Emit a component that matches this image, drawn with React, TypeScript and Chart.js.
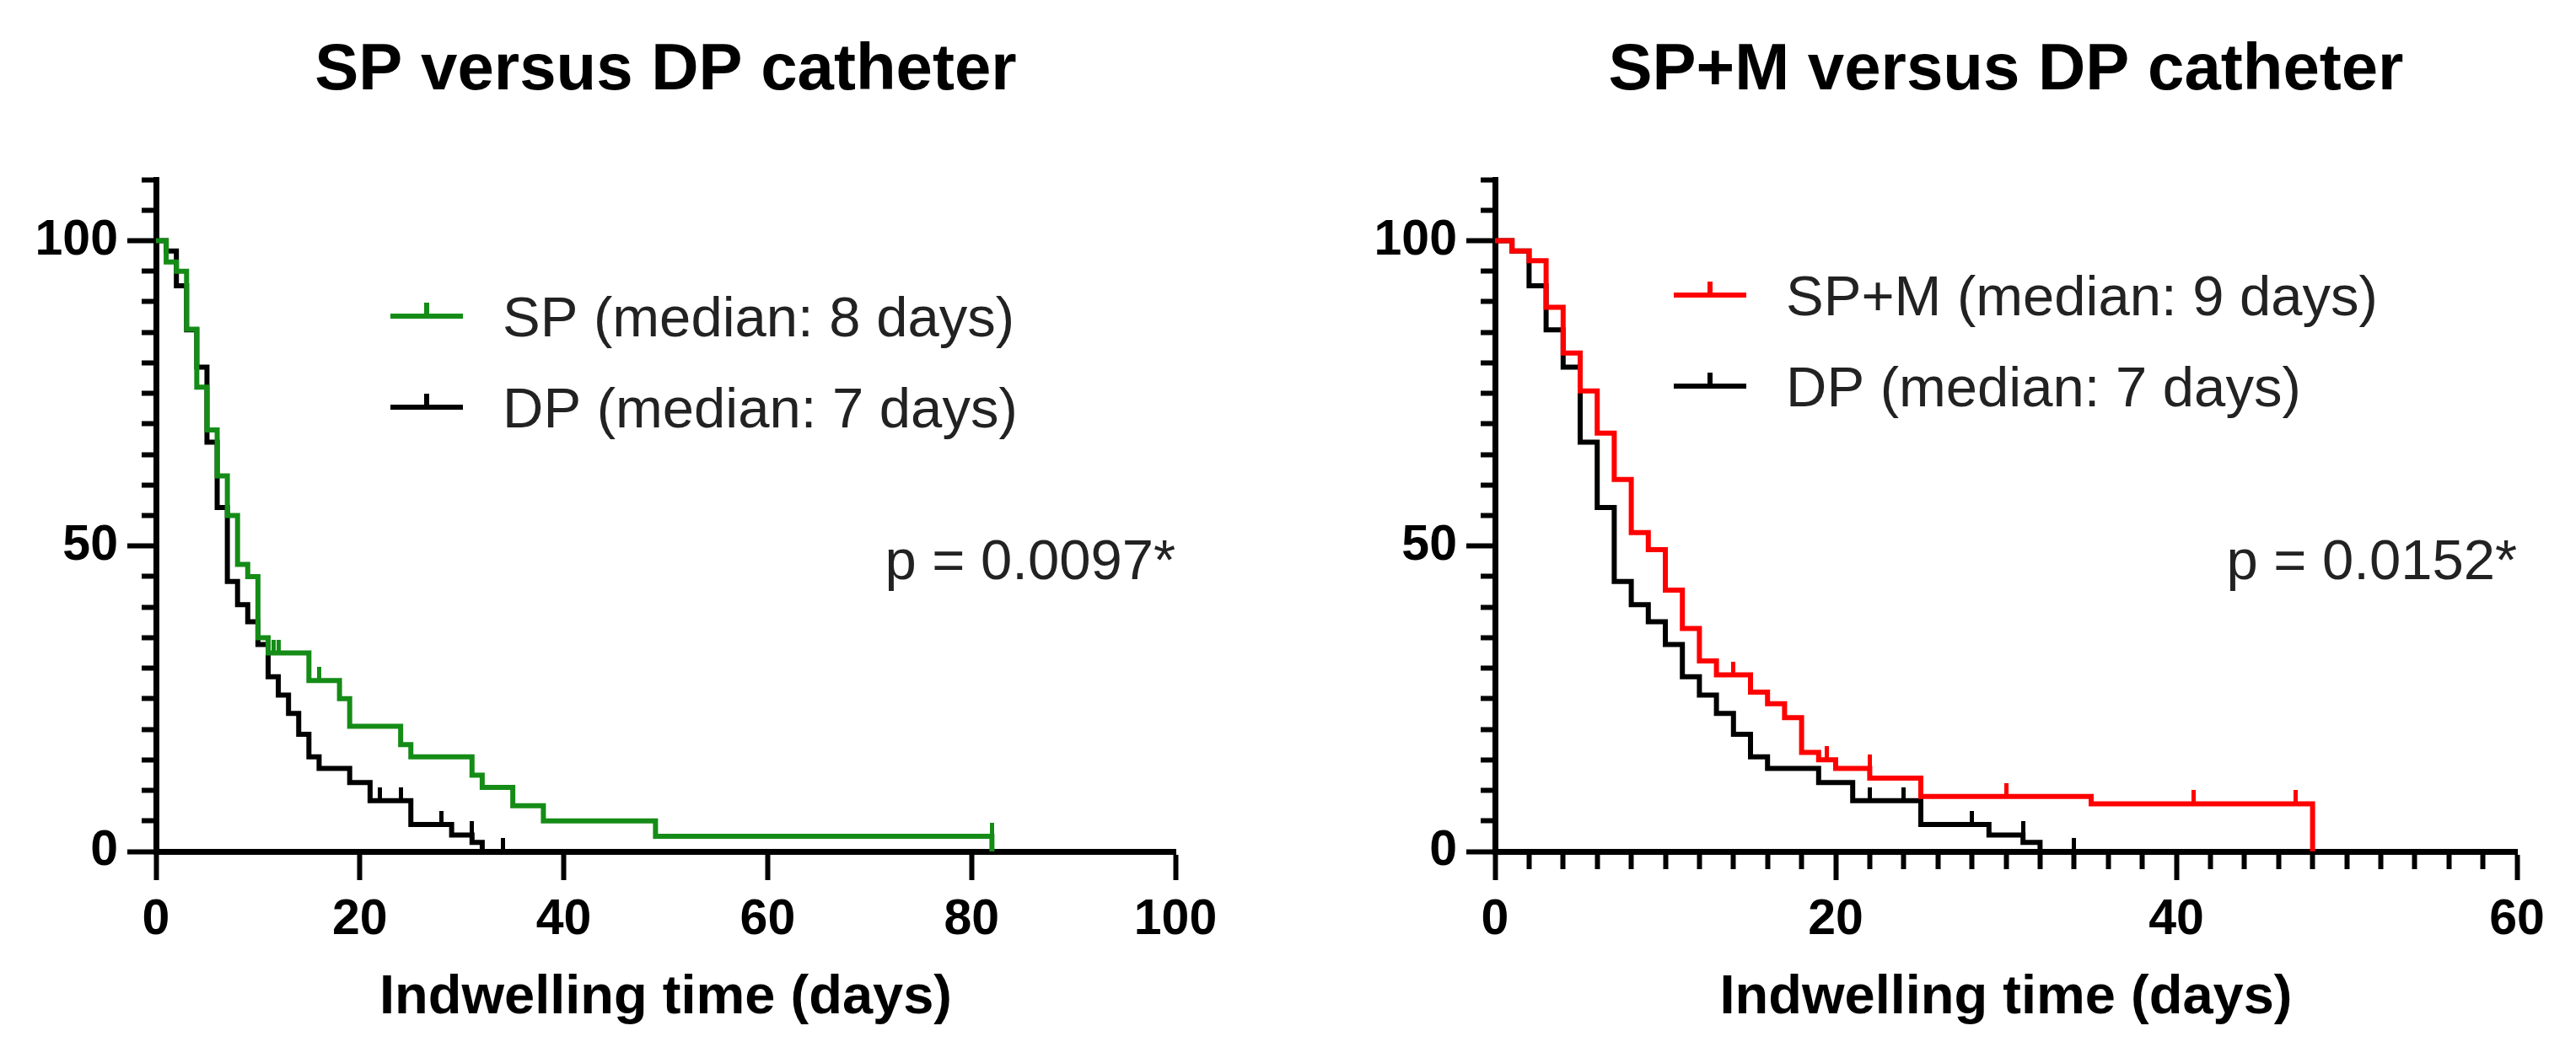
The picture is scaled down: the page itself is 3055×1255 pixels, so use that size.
import { useEffect, useRef } from "react";
import { Chart, registerables } from "chart.js";

Chart.register(...registerables);

// SP catheter (left panel)
const spDays = [0, 1, 2, 3, 4, 5, 6, 7, 8, 9, 10, 11, 15, 18, 19, 24, 25, 31, 32, 35, 38, 49, 82, 82];
const spSurvival = [100, 96.5, 95, 85.5, 76, 69, 61.5, 55, 47, 45, 35, 32.5, 28, 25, 20.5, 17.5, 15.5, 12.5, 10.5, 7.5, 5, 2.5, 2.5, 0];
const spCensored = [11.5, 12, 16, 82];

// DP catheter (both panels)
const dpDays = [0, 1, 2, 3, 4, 5, 6, 7, 8, 9, 10, 11, 12, 13, 14, 15, 16, 19, 21, 25, 29, 31, 32, 34];
const dpSurvival = [100, 98.3, 92.6, 85.4, 79.3, 67, 56.3, 44.2, 40.4, 37.6, 33.9, 28.6, 25.6, 22.6, 19.2, 15.5, 13.6, 11.3, 8.3, 4.4, 2.7, 1.5, 0, 0];
const dpCensored = [22, 24, 28, 31, 34];

// SP+M catheter (right panel)
const spmDays = [0, 1, 2, 3, 4, 5, 6, 7, 8, 9, 10, 11, 12, 13, 15, 16, 17, 18, 19, 20, 22, 25, 35, 48, 48];
const spmSurvival = [100, 98.3, 96.7, 89.1, 81.6, 75.4, 68.5, 60.9, 52.2, 49.4, 42.8, 36.5, 31.2, 28.9, 26.1, 24.2, 21.9, 16.2, 15.0, 13.6, 12.0, 9.0, 7.8, 7.8, 0];
const spmCensored = [14, 19.5, 22, 30, 41, 47];

const FONT = "'Liberation Sans', Arial, Helvetica, sans-serif";
const GREEN = "#158c17";
const RED = "#ff0000";
const BLACK = "#000000";

interface Series {
  label: string;
  color: string;
  days: number[];
  values: number[];
  censored: number[];
}

const toPoints = (days: number[], values: number[]) =>
  days.map((d, i) => ({ x: d, y: values[i] }));

// survival level just before time t (where the censor tick sits)
const levelAt = (days: number[], values: number[], t: number) => {
  let v = values[0];
  days.forEach((d, i) => {
    if (d < t) v = values[i];
  });
  return v;
};

// small upward tick, drawn as a point image centred on the curve
const censorMark = (color: string) => {
  const c = document.createElement("canvas");
  c.width = 5;
  c.height = 32;
  const ctx = c.getContext("2d");
  if (ctx) {
    ctx.fillStyle = color;
    ctx.fillRect(0, 0, 5, 16);
  }
  return c;
};

const annotate = {
  id: "kmAnnotate",
  afterDraw(chart: any, _args: any, opts: any) {
    const { ctx, chartArea } = chart;
    ctx.save();
    ctx.fillStyle = "#000";
    ctx.font = `bold 78px ${FONT}`;
    ctx.textAlign = "center";
    ctx.textBaseline = "alphabetic";
    ctx.fillText(opts.title, (chartArea.left + chartArea.right) / 2, 106);

    opts.series.forEach((s: Series, i: number) => {
      const y = opts.legendY + i * 108;
      ctx.strokeStyle = s.color;
      ctx.lineWidth = 6;
      ctx.beginPath();
      ctx.moveTo(opts.legendX, y);
      ctx.lineTo(opts.legendX + 86, y);
      ctx.moveTo(opts.legendX + 43, y);
      ctx.lineTo(opts.legendX + 43, y - 16);
      ctx.stroke();
      ctx.fillStyle = "#222";
      ctx.font = `67px ${FONT}`;
      ctx.textAlign = "left";
      ctx.fillText(s.label, opts.textX, y + 24);
    });

    ctx.fillStyle = "#222";
    ctx.font = `67px ${FONT}`;
    ctx.textAlign = "right";
    ctx.fillText(opts.pValue, chartArea.right, 687);
    ctx.restore();
  },
};

interface PanelProps {
  width: number;
  title: string;
  series: Series[];
  xMax: number;
  xStep: number;
  xLabelStep: number;
  pValue: string;
  axisWidth: number;
  padRight: number;
  legendX: number;
  legendY: number;
  textX: number;
}

const KMPanel = (props: PanelProps) => {
  const canvasRef = useRef<HTMLCanvasElement | null>(null);

  useEffect(() => {
    if (!canvasRef.current) return;

    const datasets: any[] = [];
    props.series.forEach((s) => {
      datasets.push({
        label: s.label,
        data: toPoints(s.days, s.values),
        showLine: true,
        stepped: true,
        borderColor: s.color,
        borderWidth: 6,
        pointRadius: 0,
        fill: false,
      });
    });
    props.series.forEach((s) => {
      datasets.push({
        label: s.label + " censored",
        data: s.censored.map((t) => ({ x: t, y: levelAt(s.days, s.values, t) })),
        showLine: false,
        pointStyle: censorMark(s.color),
        pointRadius: 10,
      });
    });

    const tickFont = { family: FONT, size: 59, weight: "bold" as const };

    const chart = new Chart(canvasRef.current, {
      type: "scatter",
      data: { datasets },
      options: {
        animation: false,
        responsive: false,
        layout: { padding: { top: 213, right: props.padRight, bottom: 0, left: 0 } },
        plugins: {
          legend: { display: false },
          title: { display: false },
          tooltip: { enabled: false },
          kmAnnotate: {
            title: props.title,
            series: props.series,
            pValue: props.pValue,
            legendX: props.legendX,
            legendY: props.legendY,
            textX: props.textX,
          },
        } as any,
        scales: {
          x: {
            type: "linear",
            min: 0,
            max: props.xMax,
            border: { color: BLACK, width: 7 },
            grid: {
              drawOnChartArea: false,
              drawTicks: true,
              tickLength: 34,
              tickWidth: 6,
              tickColor: BLACK,
              tickBorderDash: (c: any) =>
                c.tick && c.tick.value % props.xLabelStep !== 0 ? [17, 100] : [],
            } as any,
            ticks: {
              stepSize: props.xStep,
              autoSkip: false,
              maxRotation: 0,
              padding: 12,
              color: BLACK,
              font: tickFont,
              callback: (v: any) => (Number(v) % props.xLabelStep === 0 ? String(v) : ""),
            },
            title: {
              display: true,
              text: "Indwelling time (days)",
              color: BLACK,
              font: { family: FONT, size: 65, weight: "bold" },
              padding: { top: 0, bottom: 32 },
            },
            afterFit: (scale: any) => {
              scale.height = 245;
            },
          },
          y: {
            type: "linear",
            min: 0,
            max: 110,
            border: { color: BLACK, width: 7 },
            grid: {
              drawOnChartArea: false,
              drawTicks: true,
              tickLength: 34,
              tickWidth: 6,
              tickColor: BLACK,
              tickBorderDash: (c: any) =>
                c.tick && c.tick.value % 50 !== 0 ? [0, 17, 17, 100] : [],
            } as any,
            ticks: {
              stepSize: 5,
              autoSkip: false,
              padding: 11,
              color: BLACK,
              font: tickFont,
              callback: (v: any) => (Number(v) % 50 === 0 ? String(v) : ""),
            },
            afterFit: (scale: any) => {
              scale.width = props.axisWidth;
            },
          },
        },
      },
      plugins: [annotate],
    });

    return () => {
      chart.destroy();
    };
  }, []);

  return (
    <canvas
      ref={canvasRef}
      width={props.width}
      height={1255}
      style={{ display: "block", width: props.width, height: 1255 }}
    />
  );
};

const App = () => {
  return (
    <div
      style={{
        position: "fixed",
        left: 0,
        top: 0,
        width: 3055,
        height: 1255,
        display: "flex",
        background: "#fff",
        overflow: "hidden",
      }}
    >
      <KMPanel
        width={1527}
        title="SP versus DP catheter"
        series={[
          { label: "SP (median: 8 days)", color: GREEN, days: spDays, values: spSurvival, censored: spCensored },
          { label: "DP (median: 7 days)", color: BLACK, days: dpDays, values: dpSurvival, censored: dpCensored },
        ]}
        xMax={100}
        xStep={20}
        xLabelStep={20}
        pValue="p = 0.0097*"
        axisWidth={185}
        padRight={133}
        legendX={463}
        legendY={375}
        textX={596}
      />
      <KMPanel
        width={1528}
        title="SP+M versus DP catheter"
        series={[
          { label: "SP+M (median: 9 days)", color: RED, days: spmDays, values: spmSurvival, censored: spmCensored },
          { label: "DP (median: 7 days)", color: BLACK, days: dpDays, values: dpSurvival, censored: dpCensored },
        ]}
        xMax={60}
        xStep={2}
        xLabelStep={20}
        pValue="p = 0.0152*"
        axisWidth={246}
        padRight={70}
        legendX={458}
        legendY={350}
        textX={591}
      />
    </div>
  );
};

export default App;
